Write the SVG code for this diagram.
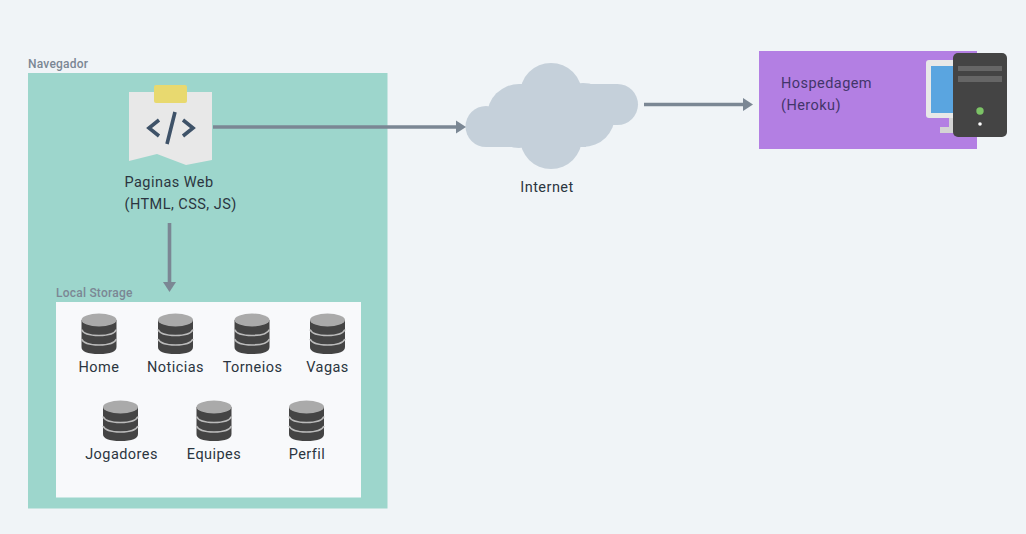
<svg xmlns="http://www.w3.org/2000/svg" width="1026" height="534" viewBox="0 0 1026 534">
<style>
text{font-family:"Roboto","Liberation Sans",sans-serif;font-size:14.5px;fill:#2b3540;letter-spacing:.45px}
.t{font-size:12px;font-weight:500;fill:#7b8794;letter-spacing:.22px}
.c{text-anchor:middle}
.p{fill:#42356a}
.line{stroke:#7b8794;stroke-width:3.600;fill:none}
.head{fill:#7b8794}
</style>
<defs>
<g id="db">
<path d="M-17.500 -31V-4Q-17.500 3 0 3Q17.500 3 17.500 -4V-31Z" fill="#444"/>
<ellipse cx="0" cy="-31" rx="17.500" ry="6.500" fill="#aaa"/>
<path d="M-17.500 -21.500Q-15 -15.500 0 -15.500Q15 -15.500 17.500 -21.500M-17.500 -12Q-15 -6 0 -6Q15 -6 17.500 -12" fill="none" stroke="#bbb" stroke-width="1.700"/>
</g>
</defs>
<rect width="1026" height="534" fill="#f0f4f7"/>
<g id="navegador">
<rect x="28" y="73" width="359.500" height="435.500" fill="#9dd6cc"/>
<text class="t" x="28" y="68">Navegador</text>
</g>
<g id="local-storage">
<rect x="56" y="302" width="305" height="195.500" fill="#f8f9fb"/>
<text class="t" x="56" y="297">Local Storage</text>
</g>
<g id="paginas-web">
<path d="M129 92H212V160L186 165L157 154L129 161Z" fill="#e8e8e8"/>
<rect x="154" y="85" width="33" height="18" rx="2" fill="#e8d96f"/>
<path d="M159 120L149 128L159 136M183 120L193 128L183 136M175 112L167 144" fill="none" stroke="#3e5268" stroke-width="3.600"/>
<text x="124.500" y="187">Paginas Web</text>
<text x="124.500" y="209">(HTML, CSS, JS)</text>
</g>
<g id="internet">
<g fill="#c5d0da">
<circle cx="551" cy="94" r="31"/>
<circle cx="551" cy="138" r="31"/>
<circle cx="486" cy="126.500" r="20.500"/>
<circle cx="519" cy="116" r="32"/>
<circle cx="583" cy="115" r="32"/>
<circle cx="617.500" cy="104.500" r="20.500"/>
<rect x="486" y="110" width="100" height="37"/>
<rect x="519" y="84" width="98.500" height="41"/>
</g>
<text class="c" x="547" y="192">Internet</text>
</g>
<g id="hospedagem">
<rect x="759" y="51" width="218" height="98" fill="#b37fe3"/>
<text class="p" x="781" y="88">Hospedagem</text>
<text class="p" x="781" y="110">(Heroku)</text>
<rect x="949" y="118" width="7" height="10" fill="#d4d4d4"/>
<rect x="940" y="127" width="16" height="6" fill="#d4d4d4"/>
<rect x="926" y="60" width="40" height="58" rx="3" fill="#e8e8e8"/>
<rect x="931" y="66" width="30" height="47" fill="#5aa5e0"/>
<rect x="953" y="53" width="54" height="84" rx="5" fill="#444"/>
<rect x="958" y="66" width="44" height="5" fill="#666"/>
<rect x="958" y="76" width="44" height="6" fill="#666"/>
<circle cx="980" cy="111" r="3.700" fill="#7cc366"/>
<circle cx="980" cy="124" r="1.800" fill="#fff"/>
</g>
<g id="db-home"><use href="#db" x="99" y="351"/><text class="c" x="99" y="372">Home</text></g>
<g id="db-noticias"><use href="#db" x="175.500" y="351"/><text class="c" x="175.500" y="372">Noticias</text></g>
<g id="db-torneios"><use href="#db" x="252" y="351"/><text class="c" x="252.500" y="372">Torneios</text></g>
<g id="db-vagas"><use href="#db" x="327.500" y="351"/><text class="c" x="327.500" y="372">Vagas</text></g>
<g id="db-jogadores"><use href="#db" x="120.500" y="438"/><text class="c" x="121.500" y="459">Jogadores</text></g>
<g id="db-equipes"><use href="#db" x="214" y="438"/><text class="c" x="214" y="459">Equipes</text></g>
<g id="db-perfil"><use href="#db" x="306.500" y="438"/><text class="c" x="307" y="459">Perfil</text></g>
<g id="connectors">
<path class="line" d="M213 127H457"/><path class="head" d="M456 120.500L466 127L456 133.500Z"/>
<path class="line" d="M644 104.500H744"/><path class="head" d="M743 98L753 104.500L743 111Z"/>
<path class="line" d="M169.500 223V283"/><path class="head" d="M163 282L169.500 292L176 282Z"/>
</g>
</svg>
